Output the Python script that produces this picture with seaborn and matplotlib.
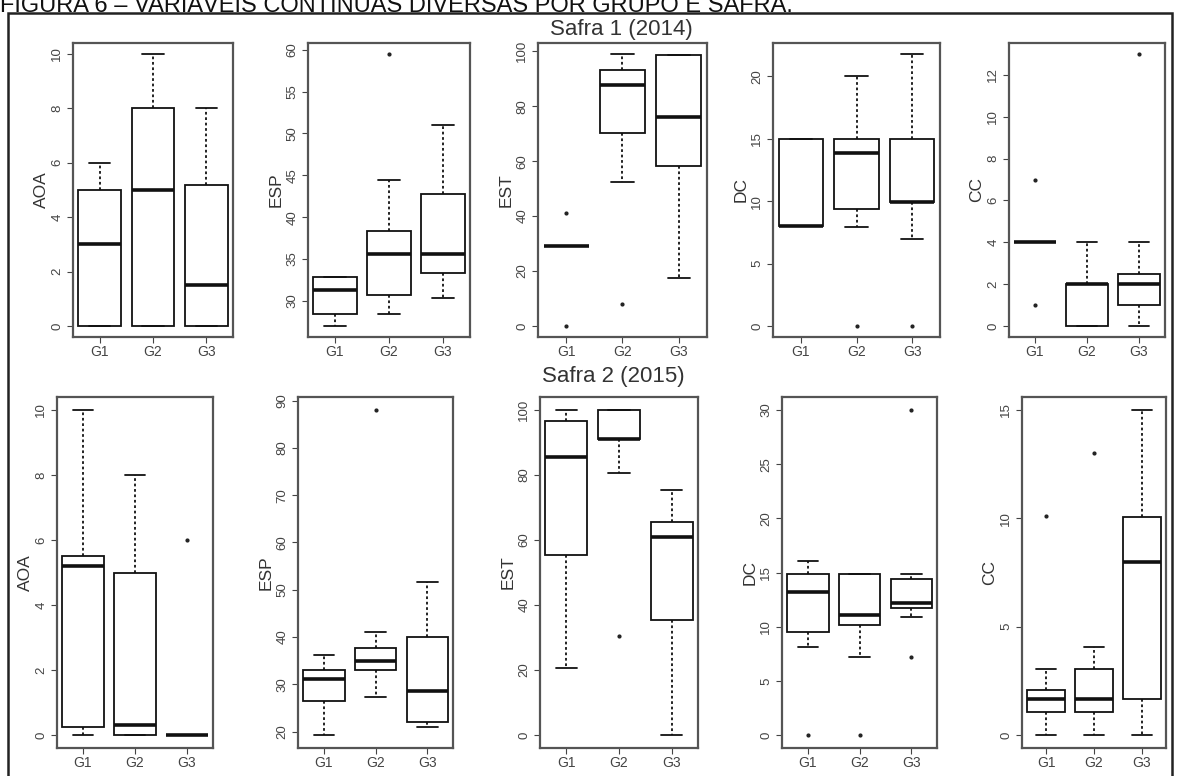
import matplotlib
matplotlib.use('Agg')
import matplotlib.pyplot as plt
import matplotlib.patches as mpatches
from matplotlib.ticker import MultipleLocator
import seaborn as sns
import pandas as pd

# Groups and five-number summaries (lo whisker, Q1, median, Q3, hi whisker, outliers)
groups = ['G1', 'G2', 'G3']

# Safra 1 (2014)
aoa_14 = dict(lo=[0, 0, 0], q1=[0, 0, 0], med=[3, 5, 1.5], q3=[5, 8, 5.2], hi=[6, 10, 8], out=[[], [], []])
esp_14 = dict(lo=[27, 28.5, 30.3], q1=[28.5, 30.7, 33.4], med=[31.3, 35.6, 35.6], q3=[32.9, 38.4, 42.8], hi=[32.9, 44.5, 51], out=[[], [59.5], []])
est_14 = dict(lo=[29, 52.4, 17.6], q1=[29, 70.3, 58.4], med=[29, 87.6, 76], q3=[29, 93.1, 98.6], hi=[29, 99, 98.6], out=[[0, 41], [8.2], []])
dc_14 = dict(lo=[8, 7.9, 7], q1=[8, 9.4, 9.9], med=[8, 13.9, 9.9], q3=[15, 15, 15], hi=[15, 20, 21.8], out=[[], [0], [0]])
cc_14 = dict(lo=[4, 0, 0], q1=[4, 0, 1], med=[4, 2, 2], q3=[4, 2, 2.5], hi=[4, 4, 4], out=[[1, 7], [], [13]])

# Safra 2 (2015)
aoa_15 = dict(lo=[0, 0, 0], q1=[0.25, 0, 0], med=[5.2, 0.3, 0], q3=[5.5, 5, 0], hi=[10, 8, 0], out=[[], [], [6]])
esp_15 = dict(lo=[19.3, 27.4, 21], q1=[26.4, 33, 22], med=[31.2, 34.9, 28.6], q3=[33, 37.7, 40], hi=[36.2, 41, 51.7], out=[[], [88], []])
est_15 = dict(lo=[20.5, 80.5, 0], q1=[55.4, 91, 35.5], med=[85.5, 91, 61], q3=[96.6, 100, 65.4], hi=[100, 100, 75.5], out=[[], [30.5], []])
dc_15 = dict(lo=[8.1, 7.2, 10.9], q1=[9.5, 10.2, 11.7], med=[13.2, 11.1, 12.2], q3=[14.9, 14.9, 14.4], hi=[16.1, 14.9, 14.9], out=[[0], [0], [7.2, 30]])
cc_15 = dict(lo=[0, 0, 0], q1=[1.04, 1.04, 1.65], med=[1.65, 1.65, 8], q3=[2.1, 3.05, 10.05], hi=[3.05, 4.05, 15], out=[[10.1], [13], []])

row_14 = [('AOA', aoa_14, 2), ('ESP', esp_14, 5), ('EST', est_14, 20), ('DC', dc_14, 5), ('CC', cc_14, 2)]
row_15 = [('AOA', aoa_15, 2), ('ESP', esp_15, 10), ('EST', est_15, 20), ('DC', dc_15, 5), ('CC', cc_15, 5)]


def expand(lo, q1, med, q3, hi, out):
    # sample whose quartiles/whiskers equal the summary values (only those values are used)
    lows = sorted(v for v in out if v < lo) + [lo]
    highs = [hi] + sorted(v for v in out if v > hi)
    m = max(len(lows), len(highs))
    return lows + [q1] * (m - len(lows) + 1) + [med] * m + [q3] * (2 * m - len(highs)) + highs


def to_frame(s):
    rows = []
    for i, g in enumerate(groups):
        for v in expand(s['lo'][i], s['q1'][i], s['med'][i], s['q3'][i], s['hi'][i], s['out'][i]):
            rows.append((g, v))
    return pd.DataFrame(rows, columns=['grupo', 'valor'])


sns.set_style('ticks')
plt.rcParams['font.family'] = ['Liberation Sans', 'DejaVu Sans']

W, H = 1180, 776
fig = plt.figure(figsize=(W / 100, H / 100), dpi=100)

# axes boxes in pixels: (left, right)
pos_14 = [(73, 233), (308, 470), (538, 707), (773, 940), (1009, 1165)]
pos_15 = [(57, 213), (298, 453), (540, 698), (782, 937), (1022, 1166)]
rows = [(row_14, pos_14, 43, 337), (row_15, pos_15, 397, 748)]

for panels, pos, top, bottom in rows:
    for (name, s, step), (x0, x1) in zip(panels, pos):
        ax = fig.add_axes([x0 / W, 1 - bottom / H, (x1 - x0) / W, (bottom - top) / H])
        df = to_frame(s)
        sns.boxplot(data=df, x='grupo', y='valor', order=groups, ax=ax,
                    color='white', linecolor='#111111', linewidth=1.3, width=0.8,
                    whiskerprops=dict(linestyle=(0, (1.5, 1.5))),
                    medianprops=dict(linewidth=2.6, color='#111111'),
                    flierprops=dict(marker='o', markersize=2, markerfacecolor='#222222',
                                    markeredgecolor='#222222'))
        vals = df['valor']
        pad = (vals.max() - vals.min()) * 0.04
        ax.set_ylim(vals.min() - pad, vals.max() + pad)
        ax.set_xlim(-0.5, 2.5)
        ax.yaxis.set_major_locator(MultipleLocator(step))
        ax.set_xlabel('')
        ax.set_ylabel(name, fontsize=12.5, color='#333333', labelpad=2)
        ax.tick_params(axis='y', labelrotation=90, labelsize=9.5, colors='#444444', length=4, pad=3)
        ax.tick_params(axis='x', labelsize=10, colors='#444444', length=4, pad=2)
        for lab in ax.get_yticklabels():
            lab.set_va('center')
        for sp in ax.spines.values():
            sp.set_visible(True)
            sp.set_color('#555555')
            sp.set_linewidth(1.6)

fig.text(621 / W, 1 - 35 / H, 'Safra 1 (2014)', ha='center', va='baseline', fontsize=16, color='#333333')
fig.text(613 / W, 1 - 382 / H, 'Safra 2 (2015)', ha='center', va='baseline', fontsize=16, color='#333333')
fig.text(0 / W, 1 - 12 / H, 'FIGURA 6 – VARIÁVEIS CONTÍNUAS DIVERSAS POR GRUPO E SAFRA.',
         ha='left', va='baseline', fontsize=17, color='#111111')

frame = mpatches.Rectangle((8 / W, -0.05), (1172 - 8) / W, 1.05 - 13 / H, transform=fig.transFigure,
                           fill=False, edgecolor='#222222', linewidth=1.8, clip_on=False)
fig.add_artist(frame)

fig.savefig('out.png', dpi=100)
